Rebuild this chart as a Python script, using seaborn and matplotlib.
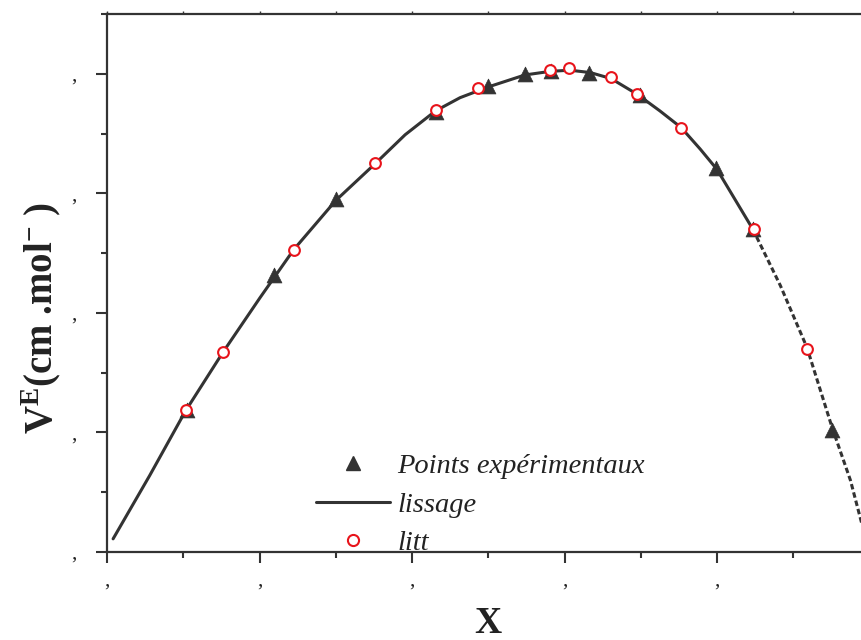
import matplotlib
matplotlib.use("Agg")
import matplotlib.pyplot as plt
from matplotlib.lines import Line2D
from matplotlib.ticker import MultipleLocator
import pandas as pd
import seaborn as sns

# experimental points (triangles)
X_EXP = [0.105, 0.219, 0.300, 0.431, 0.500, 0.548, 0.582, 0.632, 0.699, 0.799, 0.847, 0.951]
VE_EXP = [0.119, 0.232, 0.295, 0.368, 0.390, 0.400, 0.402, 0.401, 0.382, 0.321, 0.270, 0.102]

# literature points (circles)
X_LITT = [0.104, 0.152, 0.245, 0.351, 0.431, 0.487, 0.581, 0.606, 0.661, 0.695, 0.753, 0.849, 0.918]
VE_LITT = [0.119, 0.167, 0.253, 0.325, 0.370, 0.388, 0.403, 0.405, 0.397, 0.383, 0.355, 0.270, 0.170]

# smoothing curve (lissage)
X_FIT = [0.008, 0.056, 0.103, 0.152, 0.201, 0.245, 0.300, 0.352, 0.391, 0.431,
         0.463, 0.500, 0.548, 0.581, 0.607, 0.634, 0.661, 0.695, 0.725, 0.753,
         0.778, 0.800, 0.847]
VE_FIT = [0.011, 0.064, 0.118, 0.167, 0.213, 0.253, 0.294, 0.325, 0.349, 0.369,
          0.380, 0.389, 0.399, 0.402, 0.403, 0.401, 0.396, 0.383, 0.369, 0.355,
          0.337, 0.320, 0.270]
X_FIT_DASH = [0.847, 0.883, 0.918, 0.951, 0.975, 0.991]
VE_FIT_DASH = [0.270, 0.223, 0.171, 0.104, 0.060, 0.021]

X_TICKS = [0, 0.2, 0.4, 0.6, 0.8]
Y_TICKS = [0, 0.1, 0.2, 0.3, 0.4]

INK = "#333333"
RED = "#e8141b"

sns.set_style("ticks")
plt.rcParams["font.family"] = ["Liberation Serif", "DejaVu Serif"]
plt.rcParams["mathtext.fontset"] = "custom"
plt.rcParams["mathtext.rm"] = "Liberation Serif"
plt.rcParams["mathtext.bf"] = "Liberation Serif:bold"
plt.rcParams["mathtext.it"] = "Liberation Serif:italic"

fig = plt.figure(figsize=(8.62, 6.4), dpi=100)
ax = fig.add_axes([107 / 862, 1 - 552 / 640, 762.5 / 862, 538 / 640])

fit = pd.DataFrame({"x": X_FIT, "ve": VE_FIT})
fit_dash = pd.DataFrame({"x": X_FIT_DASH, "ve": VE_FIT_DASH})
exp = pd.DataFrame({"x": X_EXP, "ve": VE_EXP})
litt = pd.DataFrame({"x": X_LITT, "ve": VE_LITT})

sns.lineplot(data=fit, x="x", y="ve", ax=ax, color=INK, lw=2.2, zorder=2)
sns.lineplot(data=fit_dash, x="x", y="ve", ax=ax, color=INK, lw=2.2,
             linestyle=(0, (1.8, 1.0)), zorder=2)
sns.scatterplot(data=exp, x="x", y="ve", ax=ax, marker="^", s=115,
                color=INK, edgecolor=INK, linewidth=0.5, zorder=3)
sns.scatterplot(data=litt, x="x", y="ve", ax=ax, marker="o", s=60,
                facecolor="white", edgecolor=RED, linewidth=1.5, zorder=4)

ax.set_xlim(0, 1.0)
ax.set_ylim(0, 0.45)
ax.set_xticks(X_TICKS)
ax.set_xticklabels([","] * len(X_TICKS))
ax.set_yticks(Y_TICKS)
ax.set_yticklabels([","] * len(Y_TICKS))
ax.xaxis.set_minor_locator(MultipleLocator(0.1))
ax.yaxis.set_minor_locator(MultipleLocator(0.05))

for side in ["left", "bottom", "top"]:
    ax.spines[side].set_linewidth(1.6)
    ax.spines[side].set_color(INK)
ax.spines["right"].set_visible(False)

ax.tick_params(which="major", length=8, width=1.5, color=INK, labelsize=15, labelcolor="#222222")
ax.tick_params(which="minor", length=4.5, width=1.5, color=INK)
ax.tick_params(axis="x", which="major", pad=6)
ax.tick_params(axis="y", which="major", pad=14)
ax.tick_params(axis="x", which="both", top=True, labeltop=False)

# tiny marks on the top spine
for t in ax.xaxis.get_major_ticks() + ax.xaxis.get_minor_ticks():
    t.tick2line.set_markersize(2)
    t.tick2line.set_markeredgewidth(1.0)

ax.set_xlabel("X", fontsize=27, fontweight="bold", color="#222222", labelpad=11)
ax.set_ylabel(r"V$^{\mathbf{E}}$(cm .mol$^{\mathbf{-}}$ )", fontsize=28,
              fontweight="bold", color="#222222")
ax.yaxis.set_label_coords(-0.058, 0.435)

handles = [
    Line2D([], [], marker="^", ls="none", color=INK, markersize=10),
    Line2D([], [], color=INK, lw=2.2),
    Line2D([], [], marker="o", ls="none", markerfacecolor="white",
           markeredgecolor=RED, markeredgewidth=1.5, markersize=8),
]
labels = ["Points expérimentaux", "lissage", "litt"]
ax.legend(handles, labels, loc="upper left", bbox_to_anchor=(316 / 862, 1 - 453 / 640),
          bbox_transform=fig.transFigure, frameon=False, borderpad=0, borderaxespad=0,
          handlelength=2.6, handletextpad=0.25, labelspacing=0.45,
          prop={"family": "Liberation Serif", "style": "italic", "size": 20.5},
          labelcolor="#222222")

fig.savefig("out.png", dpi=100)
